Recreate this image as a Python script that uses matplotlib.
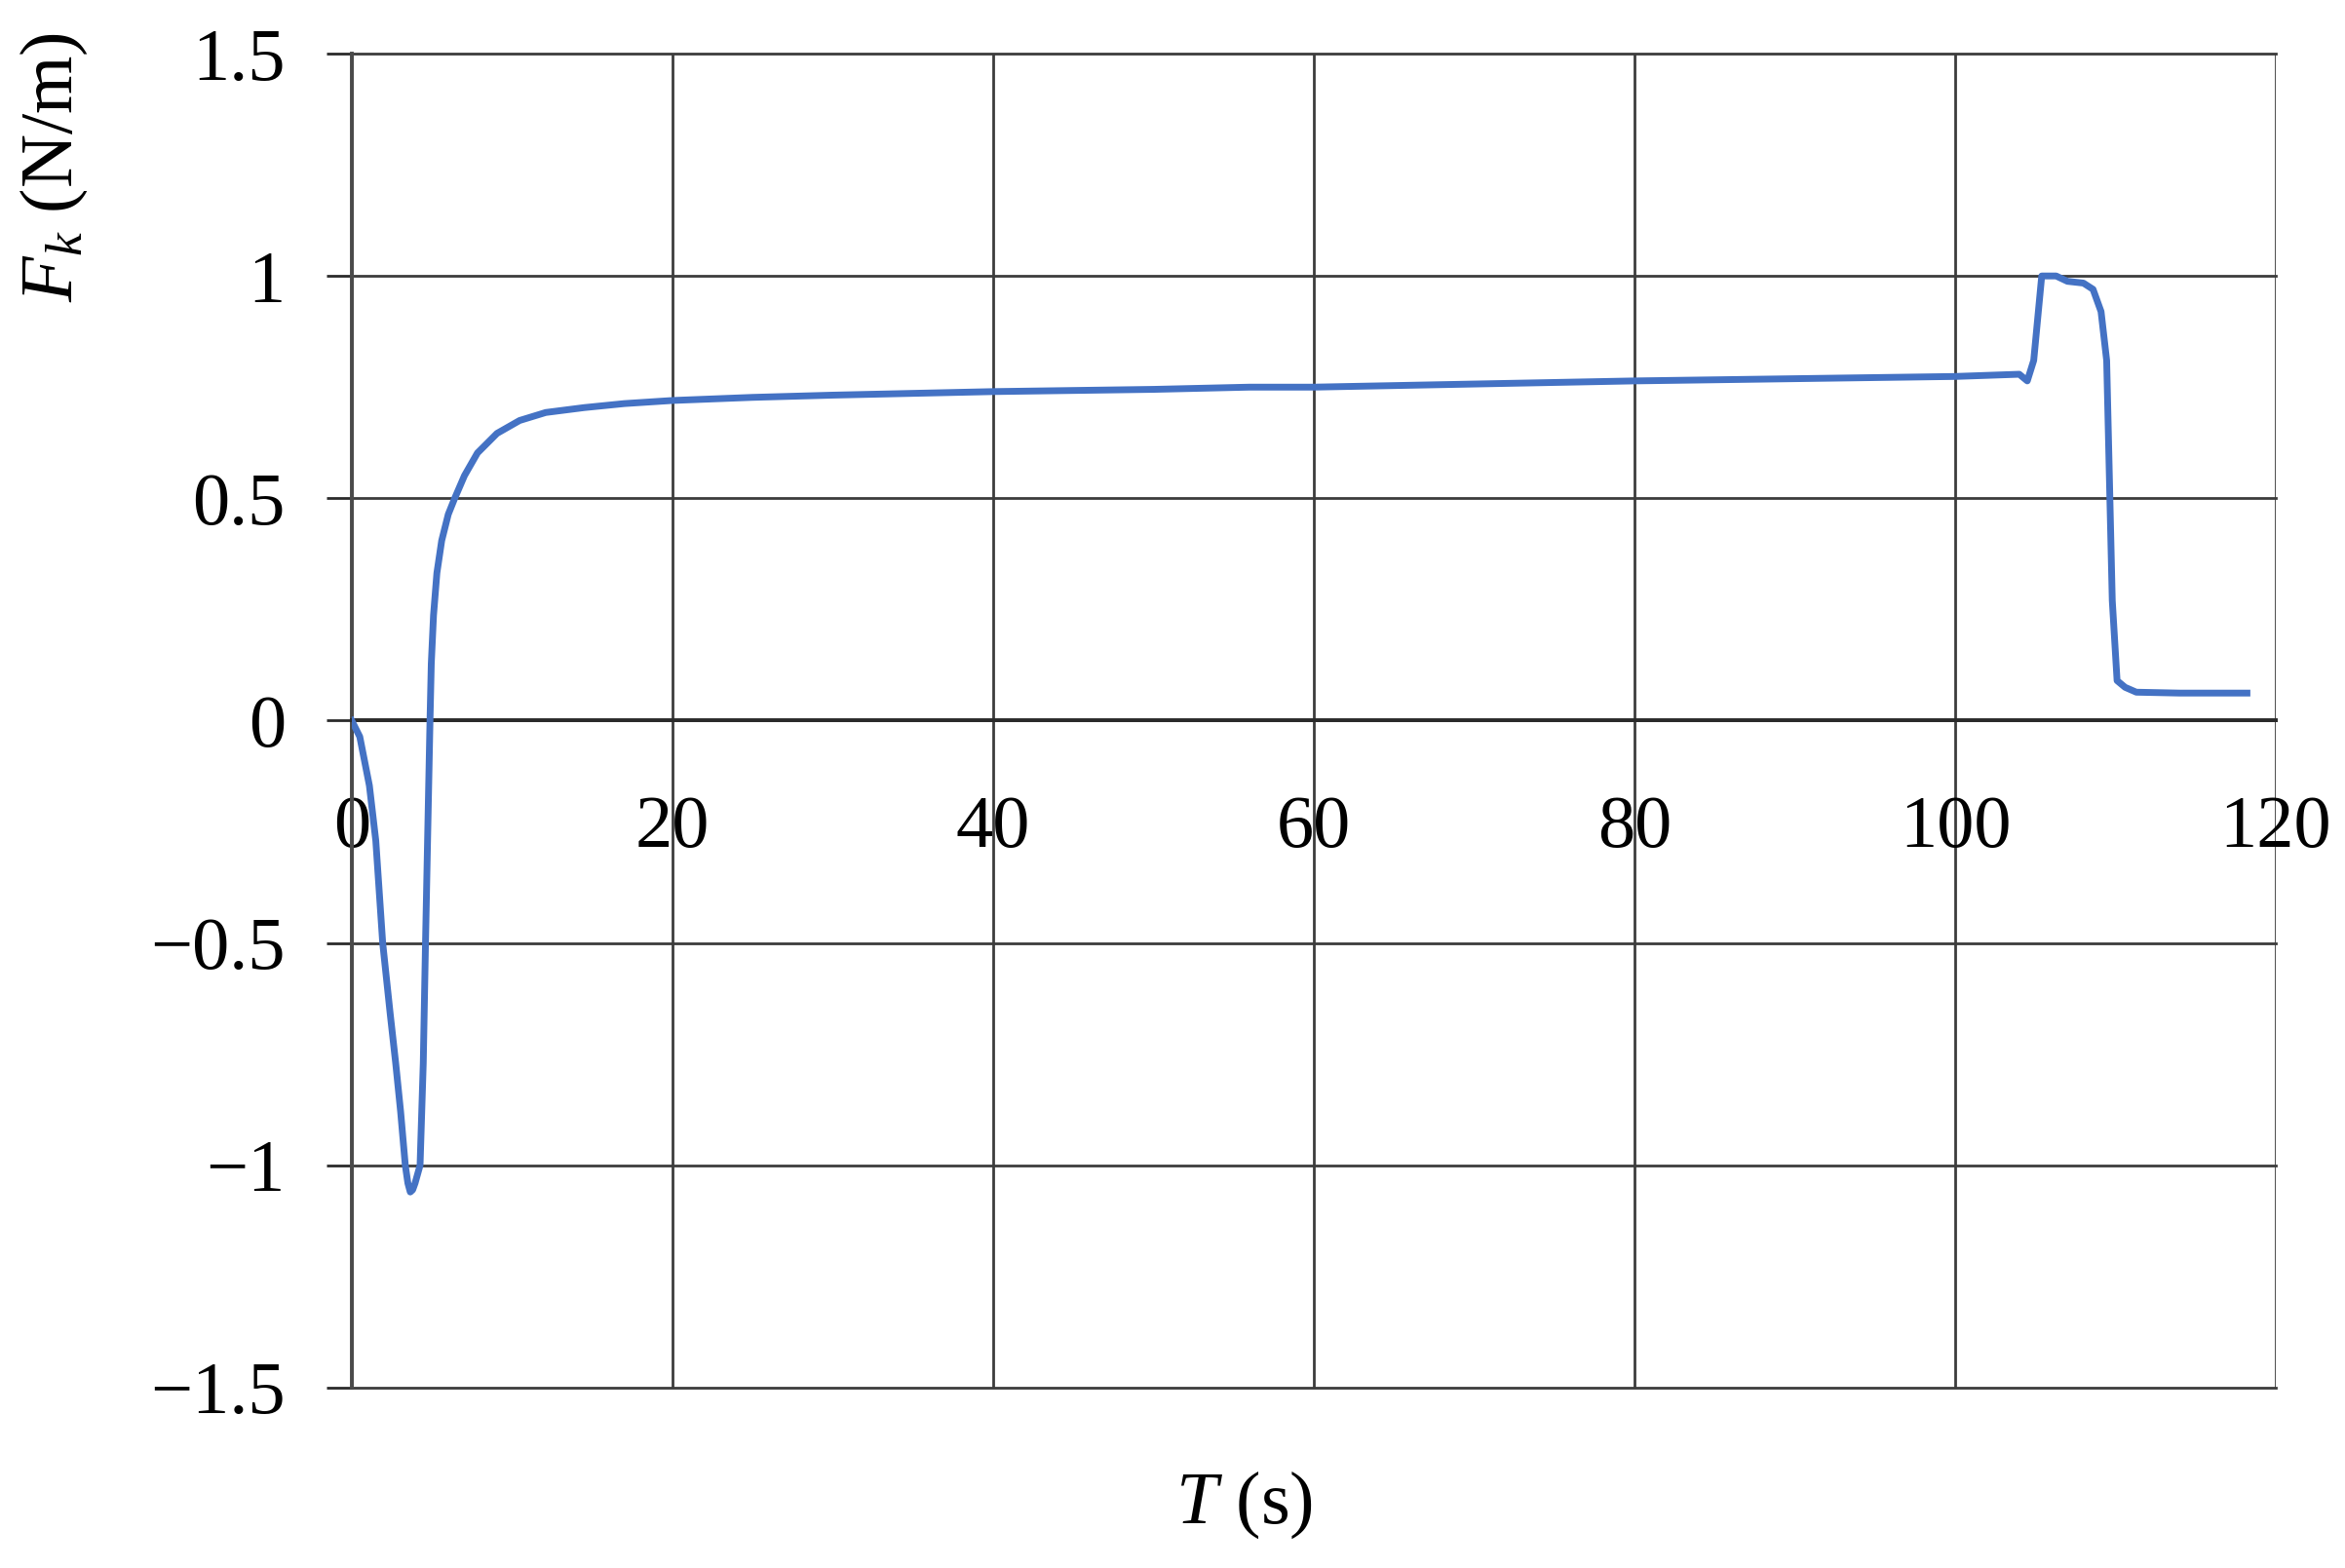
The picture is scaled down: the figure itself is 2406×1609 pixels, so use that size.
import matplotlib
matplotlib.use("Agg")
import matplotlib.pyplot as plt
from matplotlib.ticker import FuncFormatter

plt.rcParams['font.family'] = ['Liberation Serif', 'DejaVu Serif']
plt.rcParams['mathtext.fontset'] = 'custom'
plt.rcParams['mathtext.rm'] = 'Liberation Serif'
plt.rcParams['mathtext.it'] = 'Liberation Serif:italic'

# time (s) and force (N/m)
T = [0, 0.5, 1.1, 1.5, 1.93, 2.4, 2.74, 3.05, 3.34, 3.5, 3.65, 3.8, 3.95,
     4.26, 4.46, 4.6, 4.74, 4.88, 4.96, 5.1, 5.31, 5.61, 6.02, 6.42, 7.03,
     7.84, 9.06, 10.47, 12.1, 14.5, 17.0, 20, 25, 30, 40, 50, 56, 60, 70, 80,
     90, 100, 104, 104.5, 104.9, 105.4, 106.3, 107.0, 108.0, 108.6, 109.1,
     109.45, 109.65, 109.8, 110.1, 110.6, 111.3, 114, 118.2]
F = [0, -0.036, -0.146, -0.27, -0.5, -0.66, -0.77, -0.88, -1.0, -1.04, -1.06,
     -1.055, -1.04, -1.0, -0.77, -0.5, -0.25, 0.0, 0.128, 0.237, 0.332, 0.405,
     0.464, 0.5, 0.551, 0.602, 0.646, 0.675, 0.693, 0.704, 0.713, 0.72, 0.727,
     0.732, 0.74, 0.745, 0.75, 0.75, 0.757, 0.764, 0.769, 0.774, 0.779, 0.764,
     0.81, 1.0, 1.0, 0.988, 0.984, 0.97, 0.92, 0.81, 0.5, 0.27, 0.09, 0.075,
     0.064, 0.062, 0.062]

xticks = [0, 20, 40, 60, 80, 100, 120]
yticks = [-1.5, -1, -0.5, 0, 0.5, 1, 1.5]

fig = plt.figure(figsize=(24.06, 16.09), dpi=100)
ax = fig.add_axes([0.150, 0.115, 0.8205, 0.8508])

ax.plot(T, F, color='#4472C4', lw=5, solid_joinstyle='round', zorder=3)

ax.set_xlim(0, 120)
ax.set_ylim(-1.5, 1.5)
ax.set_xticks(xticks)
ax.set_yticks(yticks)


def fmt(v, pos):
    s = f"{v:g}"
    return s.replace('-', '\u2212')


ax.yaxis.set_major_formatter(FuncFormatter(fmt))
ax.xaxis.set_major_formatter(FuncFormatter(fmt))

ax.grid(True, color='#3c3c3c', lw=2.0)
for ln in ax.get_xgridlines() + ax.get_ygridlines():
    ln.set_clip_on(False)

for side in ['top', 'right']:
    ax.spines[side].set_visible(False)
ax.spines['bottom'].set_position(('data', 0))
ax.spines['bottom'].set_color('#2a2a2a')
ax.spines['bottom'].set_linewidth(2.8)
ax.spines['left'].set_color('#4a4a4a')
ax.spines['left'].set_linewidth(2.8)

ax.tick_params(axis='y', direction='out', length=19, width=2.0, color='#2a2a2a',
               pad=30, labelsize=55)
ax.tick_params(axis='x', length=0, pad=55, labelsize=55)

ax.set_xlabel(r'$T$ (s)', fontsize=55, va='center')
ax.xaxis.set_label_coords(0.464, -0.088)
ax.set_ylabel(r'$F_k$ (N/m)', fontsize=55, va='center')
ax.yaxis.set_label_coords(-0.155, 0.915)

fig.savefig('out.png', dpi=100, facecolor='white')
